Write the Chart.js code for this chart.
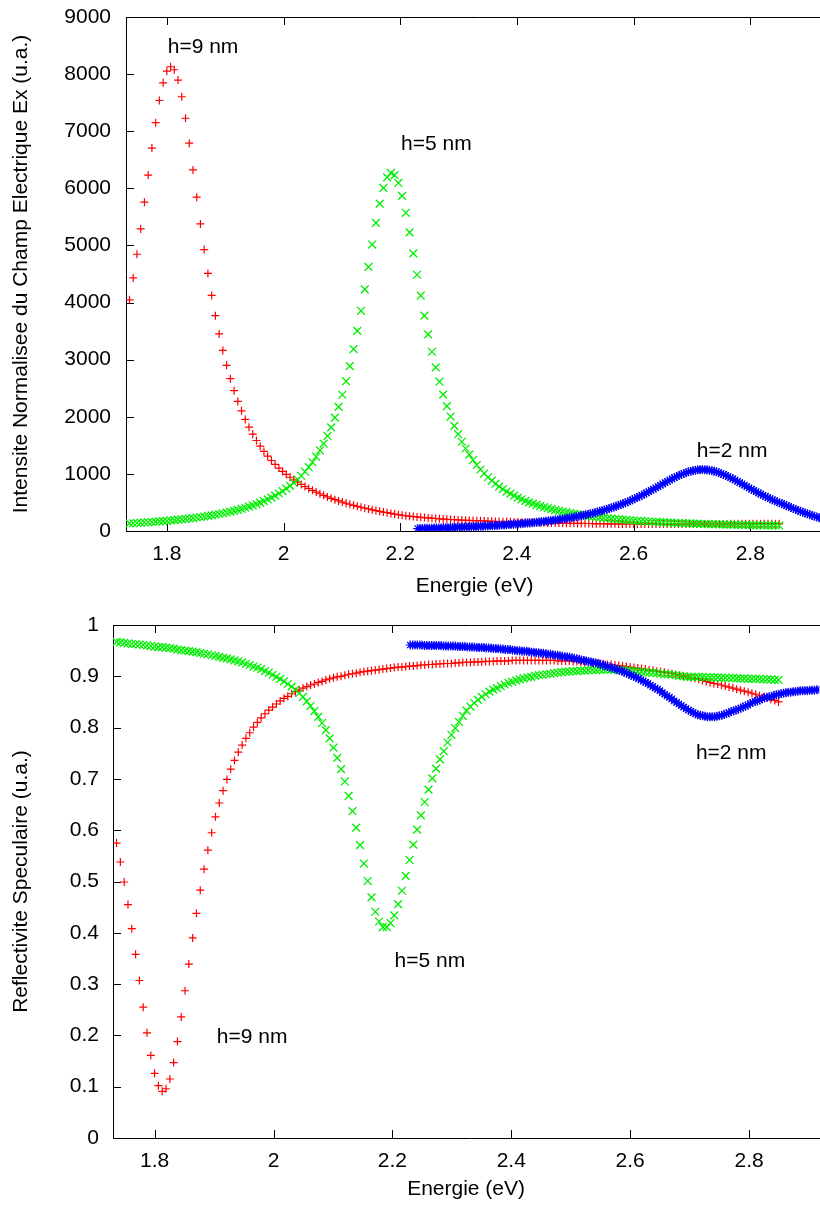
<!DOCTYPE html>
<html>
<head>
<meta charset="utf-8">
<script src="https://cdn.jsdelivr.net/npm/chart.js@4.4.1/dist/chart.umd.min.js"></script>
<style>
  html, body { margin: 0; padding: 0; background: #fff; overflow: hidden; width: 820px; }
  canvas { display: block; }
</style>
</head>
<body>
<!-- plots run a little past the right edge, like the cropped original -->
<canvas id="champChart" width="830" height="602"></canvas>
<canvas id="reflChart" width="826" height="603"></canvas>
<script>
/* ======================
   DATA
====================== */

// energies (eV) of the h=9 nm and h=5 nm runs
const energy = [
  1.7360,1.7424,1.7488,1.7552,1.7616,1.7680,1.7744,1.7808,1.7872,1.7936,
  1.8000,1.8064,1.8128,1.8192,1.8256,1.8320,1.8384,1.8448,1.8512,1.8576,
  1.8640,1.8704,1.8768,1.8832,1.8896,1.8960,1.9024,1.9088,1.9152,1.9216,
  1.9280,1.9344,1.9408,1.9472,1.9536,1.9600,1.9664,1.9728,1.9792,1.9856,
  1.9920,1.9984,2.0048,2.0112,2.0176,2.0240,2.0304,2.0368,2.0432,2.0496,
  2.0560,2.0624,2.0688,2.0752,2.0816,2.0880,2.0944,2.1008,2.1072,2.1136,
  2.1200,2.1264,2.1328,2.1392,2.1456,2.1520,2.1584,2.1648,2.1712,2.1776,
  2.1840,2.1904,2.1968,2.2032,2.2096,2.2160,2.2224,2.2288,2.2352,2.2416,
  2.2480,2.2544,2.2608,2.2672,2.2736,2.2800,2.2864,2.2928,2.2992,2.3056,
  2.3120,2.3184,2.3248,2.3312,2.3376,2.3440,2.3504,2.3568,2.3632,2.3696,
  2.3760,2.3824,2.3888,2.3952,2.4016,2.4080,2.4144,2.4208,2.4272,2.4336,
  2.4400,2.4464,2.4528,2.4592,2.4656,2.4720,2.4784,2.4848,2.4912,2.4976,
  2.5040,2.5104,2.5168,2.5232,2.5296,2.5360,2.5424,2.5488,2.5552,2.5616,
  2.5680,2.5744,2.5808,2.5872,2.5936,2.6000,2.6064,2.6128,2.6192,2.6256,
  2.6320,2.6384,2.6448,2.6512,2.6576,2.6640,2.6704,2.6768,2.6832,2.6896,
  2.6960,2.7024,2.7088,2.7152,2.7216,2.7280,2.7344,2.7408,2.7472,2.7536,
  2.7600,2.7664,2.7728,2.7792,2.7856,2.7920,2.7984,2.8048,2.8112,2.8176,
  2.8240,2.8304,2.8368,2.8432,2.8496
];

// energies (eV) of the h=2 nm run
const energyH2 = [
  2.230,2.234,2.238,2.242,2.246,2.250,2.254,2.258,2.262,2.266,
  2.270,2.274,2.278,2.282,2.286,2.290,2.294,2.298,2.302,2.306,
  2.310,2.314,2.318,2.322,2.326,2.330,2.334,2.338,2.342,2.346,
  2.350,2.354,2.358,2.362,2.366,2.370,2.374,2.378,2.382,2.386,
  2.390,2.394,2.398,2.402,2.406,2.410,2.414,2.418,2.422,2.426,
  2.430,2.434,2.438,2.442,2.446,2.450,2.454,2.458,2.462,2.466,
  2.470,2.474,2.478,2.482,2.486,2.490,2.494,2.498,2.502,2.506,
  2.510,2.514,2.518,2.522,2.526,2.530,2.534,2.538,2.542,2.546,
  2.550,2.554,2.558,2.562,2.566,2.570,2.574,2.578,2.582,2.586,
  2.590,2.594,2.598,2.602,2.606,2.610,2.614,2.618,2.622,2.626,
  2.630,2.634,2.638,2.642,2.646,2.650,2.654,2.658,2.662,2.666,
  2.670,2.674,2.678,2.682,2.686,2.690,2.694,2.698,2.702,2.706,
  2.710,2.714,2.718,2.722,2.726,2.730,2.734,2.738,2.742,2.746,
  2.750,2.754,2.758,2.762,2.766,2.770,2.774,2.778,2.782,2.786,
  2.790,2.794,2.798,2.802,2.806,2.810,2.814,2.818,2.822,2.826,
  2.830,2.834,2.838,2.842,2.846,2.850,2.854,2.858,2.862,2.866,
  2.870,2.874,2.878,2.882,2.886,2.890,2.894,2.898,2.902,2.906,
  2.910,2.914,2.918,2.922
];

// Intensite normalisee du champ Ex (u.a.)
const champH9 = [
  4048,4431,4846,5290,5757,6233,6705,7149,7538,7848,
  8051,8129,8076,7895,7604,7227,6791,6323,5846,5377,
  4928,4510,4124,3771,3450,3161,2901,2667,2457,2269,
  2105,1954,1818,1696,1585,1486,1394,1310,1234,1165,
  1101,1043,990,941,897,855,815,778,744,712,
  682,652,624,597,573,549,527,506,486,468,
  450,432,416,400,386,371,357,345,331,320,
  307,296,286,276,267,259,252,246,240,235,
  229,224,219,214,209,206,201,198,194,191,
  188,186,183,180,178,176,173,171,168,166,
  164,162,160,158,156,154,152,151,148,147,
  145,144,142,141,140,139,137,136,135,134,
  133,132,131,131,129,129,128,127,126,126,
  125,124,124,123,123,123,123,122,122,122,
  121,121,121,122,122,122,121,121,122,122,
  121,121,122,122,122,123,123,123,124,124,
  124,125,125,125,125,126,126,126,126,126,
  126,126,126,126,125
];
const champH5 = [
  133,136,140,144,149,153,158,163,168,173,
  179,185,191,198,205,212,219,227,236,245,
  254,264,275,286,298,311,324,339,354,370,
  388,407,427,449,472,497,524,553,585,619,
  657,697,742,790,844,902,967,1038,1117,1204,
  1301,1410,1529,1664,1815,1984,2173,2386,2623,2888,
  3183,3505,3856,4231,4624,5016,5396,5733,6007,6193,
  6269,6232,6094,5868,5572,5230,4862,4487,4120,3770,
  3442,3139,2864,2614,2389,2186,2004,1841,1695,1563,
  1445,1339,1243,1156,1077,1006,941,882,828,778,
  733,691,653,618,585,555,528,502,479,457,
  436,417,399,382,366,351,338,325,313,301,
  290,281,271,262,253,245,237,230,223,216,
  210,205,199,194,188,183,179,174,171,166,
  162,159,155,152,149,145,143,140,138,135,
  132,130,128,126,123,122,120,118,116,114,
  113,111,110,108,107,106,104,103,102,101,
  100,99,98,97,96
];
const champH2 = [
  43,44,45,46,47,48,49,51,52,53,
  54,56,57,59,60,61,63,65,66,68,
  69,71,73,75,77,78,80,82,84,87,
  89,91,93,96,98,101,103,106,109,112,
  115,118,121,124,127,131,134,138,142,145,
  149,154,158,162,167,172,176,182,187,192,
  198,204,210,216,222,229,236,243,251,259,
  267,275,284,293,302,312,322,333,344,355,
  367,379,392,405,419,433,448,463,479,495,
  512,529,547,566,585,605,625,646,667,688,
  710,733,755,778,801,824,847,869,891,913,
  934,954,973,991,1007,1022,1036,1048,1057,1065,
  1071,1074,1075,1074,1071,1065,1057,1048,1036,1022,
  1007,991,973,954,934,913,891,869,847,824,
  801,778,755,733,710,688,667,646,625,605,
  585,566,547,529,512,495,479,463,444,427,
  410,393,377,361,345,330,315,300,286,272,
  258,246,234,223
];

// Reflectivite speculaire (u.a.)
const reflH9 = [
  .575,.538,.499,.455,.408,.358,.307,.255,.205,.161,
  .126,.102,.091,.096,.115,.147,.188,.236,.287,.339,
  .390,.438,.483,.524,.561,.595,.626,.653,.677,.699,
  .719,.736,.752,.766,.779,.790,.801,.810,.819,.827,
  .834,.840,.846,.852,.857,.861,.866,.870,.873,.877,
  .880,.883,.885,.888,.890,.893,.895,.897,.899,.900,
  .902,.904,.905,.906,.908,.909,.910,.911,.912,.913,
  .914,.915,.916,.917,.918,.918,.919,.920,.920,.921,
  .922,.922,.923,.923,.924,.924,.925,.925,.925,.926,
  .926,.927,.927,.927,.928,.928,.928,.929,.929,.929,
  .930,.930,.930,.930,.931,.931,.931,.931,.931,.931,
  .931,.931,.931,.931,.931,.931,.930,.930,.930,.930,
  .929,.929,.928,.928,.927,.926,.926,.925,.924,.923,
  .923,.922,.921,.920,.919,.918,.917,.916,.915,.914,
  .913,.912,.910,.909,.908,.906,.905,.903,.902,.900,
  .899,.897,.896,.894,.892,.890,.888,.886,.885,.883,
  .881,.879,.877,.875,.873,.871,.869,.867,.865,.862,
  .860,.858,.855,.853,.850
];
const reflH5 = [
  .967,.966,.965,.964,.963,.963,.962,.961,.960,.959,
  .958,.957,.957,.956,.955,.954,.952,.951,.950,.949,
  .948,.947,.945,.944,.943,.941,.940,.938,.936,.935,
  .933,.931,.929,.927,.924,.922,.919,.917,.914,.910,
  .907,.903,.899,.895,.890,.885,.880,.874,.867,.860,
  .851,.842,.832,.821,.809,.795,.779,.761,.741,.719,
  .695,.667,.637,.605,.571,.535,.501,.469,.441,.422,
  .411,.411,.419,.434,.456,.482,.511,.542,.572,.601,
  .629,.655,.679,.701,.720,.738,.754,.771,.786,.799,
  .811,.823,.833,.841,.848,.854,.860,.865,.870,.874,
  .877,.881,.884,.887,.889,.892,.894,.896,.898,.899,
  .901,.902,.903,.904,.905,.906,.907,.908,.909,.909,
  .910,.910,.911,.911,.912,.912,.912,.913,.913,.913,
  .913,.913,.912,.912,.911,.911,.910,.909,.909,.908,
  .907,.907,.906,.905,.904,.904,.903,.902,.901,.900,
  .899,.899,.899,.899,.899,.898,.898,.898,.898,.897,
  .897,.897,.897,.896,.896,.896,.895,.895,.895,.895,
  .894,.894,.894,.893,.893
];
const reflH2 = [
  .961,.961,.961,.961,.961,.961,.960,.960,.960,.960,
  .960,.960,.960,.960,.959,.959,.959,.959,.959,.959,
  .958,.958,.958,.958,.957,.957,.957,.957,.956,.956,
  .956,.956,.955,.955,.955,.954,.954,.954,.953,.953,
  .952,.952,.952,.951,.951,.950,.950,.949,.949,.949,
  .948,.947,.947,.946,.946,.945,.945,.944,.943,.943,
  .942,.941,.941,.940,.939,.938,.938,.937,.936,.935,
  .934,.933,.932,.931,.930,.929,.928,.927,.926,.925,
  .923,.922,.921,.919,.918,.916,.915,.913,.912,.910,
  .908,.906,.904,.902,.900,.898,.896,.893,.891,.888,
  .886,.883,.880,.877,.875,.872,.868,.865,.862,.859,
  .856,.852,.849,.846,.843,.840,.837,.834,.832,.829,
  .827,.825,.824,.823,.822,.821,.821,.821,.821,.822,
  .823,.824,.826,.827,.829,.831,.833,.834,.836,.838,
  .840,.842,.844,.847,.849,.851,.852,.854,.856,.858,
  .859,.860,.861,.863,.864,.865,.866,.867,.868,.869,
  .869,.870,.870,.871,.872,.872,.872,.872,.873,.873,
  .873,.874,.874,.874
];

// curve labels, in data units
const champLabels = [
  { text: "h=9 nm", x: 1.862, y: 8475 },
  { text: "h=5 nm", x: 2.262, y: 6776 },
  { text: "h=2 nm", x: 2.769, y: 1401 }
];
const reflLabels = [
  { text: "h=2 nm", x: 2.770, y: 0.751 },
  { text: "h=5 nm", x: 2.263, y: 0.345 },
  { text: "h=9 nm", x: 1.964, y: 0.197 }
];

/* ======================
   HELPERS
====================== */

const FONT = '"Liberation Sans", Arial, sans-serif';
Chart.defaults.font.family = FONT;
Chart.defaults.color = "#000";

const pts = (xs, ys) => xs.map((x, i) => ({ x: x, y: ys[i] }));

// gnuplot style frame: border + inward ticks
const framePlugin = {
  id: "frame",
  beforeDatasetsDraw(chart) {
    const { ctx, chartArea: a, scales: { x, y } } = chart;
    ctx.save();
    ctx.strokeStyle = "#000";
    ctx.lineWidth = 1;
    ctx.beginPath();
    ctx.moveTo(a.right + 10, a.top + 0.5);
    ctx.lineTo(a.left + 0.5, a.top + 0.5);
    ctx.lineTo(a.left + 0.5, a.bottom + 0.5);
    ctx.lineTo(a.right + 10, a.bottom + 0.5);
    x.ticks.forEach(t => {
      const px = Math.round(x.getPixelForValue(t.value)) + 0.5;
      ctx.moveTo(px, a.bottom);
      ctx.lineTo(px, a.bottom - 8);
      ctx.moveTo(px, a.top);
      ctx.lineTo(px, a.top + 8);
    });
    y.ticks.forEach(t => {
      const py = Math.round(y.getPixelForValue(t.value)) + 0.5;
      ctx.moveTo(a.left, py);
      ctx.lineTo(a.left + 8, py);
    });
    ctx.stroke();
    ctx.restore();
  }
};

const labelPlugin = {
  id: "curveLabels",
  afterDatasetsDraw(chart, args, opts) {
    const { ctx, scales: { x, y } } = chart;
    ctx.save();
    ctx.font = "21px " + FONT;
    ctx.fillStyle = "#000";
    ctx.textAlign = "center";
    ctx.textBaseline = "middle";
    (opts.items || []).forEach(it => {
      ctx.fillText(it.text, x.getPixelForValue(it.x), y.getPixelForValue(it.y));
    });
    ctx.restore();
  }
};

function makeChart(id, cfg) {
  const ctx = document.getElementById(id).getContext("2d");
  const font = { size: 21 };
  return new Chart(ctx, {
    type: "scatter",
    data: {
      datasets: [
        {
          label: "h=2 nm",
          data: pts(energyH2, cfg.h2),
          pointStyle: "star",
          pointRadius: 4.5,
          pointBorderWidth: 1.2,
          pointBorderColor: "#0000ff",
          pointBackgroundColor: "#0000ff",
          order: 1
        },
        {
          label: "h=5 nm",
          data: pts(energy, cfg.h5),
          pointStyle: "crossRot",
          pointRadius: 5.5,
          pointBorderWidth: 1.3,
          pointBorderColor: "#00ee00",
          pointBackgroundColor: "#00ee00",
          order: 2
        },
        {
          label: "h=9 nm",
          data: pts(energy, cfg.h9),
          pointStyle: "cross",
          pointRadius: 4,
          pointBorderWidth: 1.2,
          pointBorderColor: "#ff0000",
          pointBackgroundColor: "#ff0000",
          order: 3
        }
      ]
    },
    options: {
      responsive: false,
      animation: false,
      devicePixelRatio: 1,
      events: [],
      layout: { padding: { top: cfg.padTop, right: 0, bottom: 0, left: 0 } },
      plugins: {
        legend: { display: false },
        tooltip: { enabled: false },
        curveLabels: { items: cfg.labels }
      },
      scales: {
        x: {
          type: "linear",
          min: 1.73,
          max: cfg.xMax,
          grid: { display: false, drawTicks: false },
          border: { display: false },
          ticks: {
            stepSize: 0.2,
            includeBounds: false,
            padding: 11,
            font: font,
            color: "#000",
            callback: v => String(Math.round(v * 10) / 10)
          },
          title: {
            display: true,
            text: "Energie (eV)",
            font: font,
            color: "#000",
            padding: { top: 0, bottom: 3 }
          },
          afterFit: s => {
            s.height = cfg.xHeight;
            s.paddingLeft = 0;
            s.paddingRight = 0;
          }
        },
        y: {
          type: "linear",
          min: cfg.yMin,
          max: cfg.yMax,
          grid: { display: false, drawTicks: false },
          border: { display: false },
          ticks: {
            stepSize: cfg.yStep,
            padding: cfg.yPad,
            font: font,
            color: "#000",
            callback: cfg.yFmt
          },
          title: {
            display: true,
            text: cfg.yTitle,
            font: font,
            color: "#000",
            padding: { top: 9, bottom: 0 }
          },
          afterFit: s => {
            s.width = cfg.yWidth;
            s.paddingTop = 0;
            s.paddingBottom = 0;
          }
        }
      }
    },
    plugins: [framePlugin, labelPlugin]
  });
}

/* ======================
   CHAMP Ex (TOP)
====================== */

makeChart("champChart", {
  h9: champH9, h5: champH5, h2: champH2,
  xMax: 2.925,
  yMin: 0, yMax: 9000, yStep: 1000,
  yFmt: v => String(Math.round(v)),
  yTitle: "Intensite Normalisee du Champ Electrique Ex (u.a.)",
  yWidth: 126, yPad: 15, xHeight: 71, padTop: 17,
  labels: champLabels
});

/* ======================
   REFLECTIVITE (BOTTOM)
====================== */

makeChart("reflChart", {
  h9: reflH9, h5: reflH5, h2: reflH2,
  xMax: 2.918,
  yMin: 0, yMax: 1, yStep: 0.1,
  yFmt: v => String(Math.round(v * 10) / 10),
  yTitle: "Reflectivite Speculaire (u.a.)",
  yWidth: 113, yPad: 14, xHeight: 67, padTop: 23,
  labels: reflLabels
});
</script>
</body>
</html>
